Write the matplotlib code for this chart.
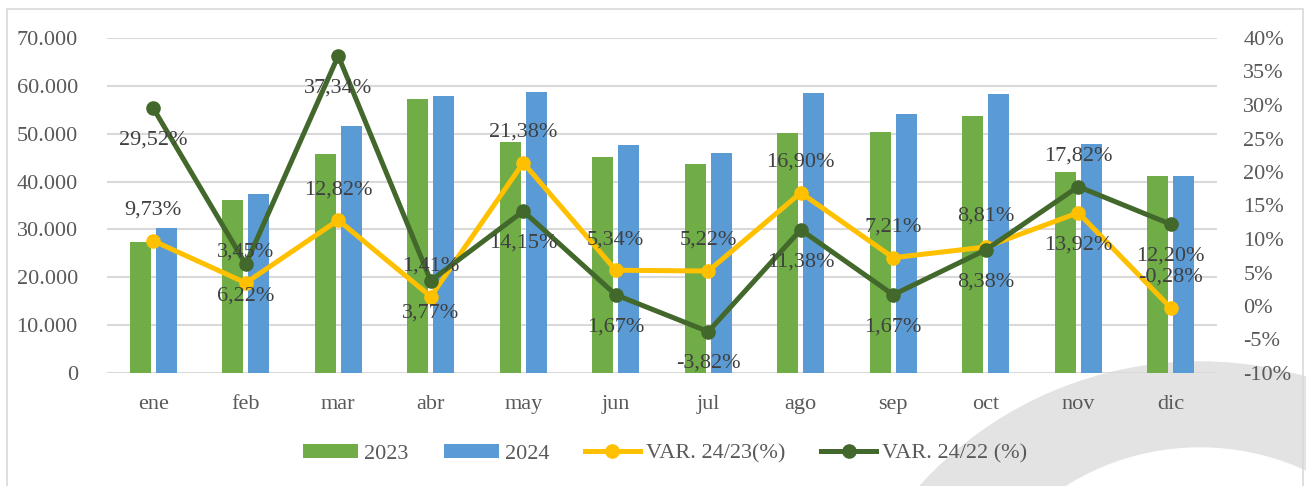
import numpy as np
import matplotlib.pyplot as plt
from matplotlib.patches import Circle, Rectangle
from matplotlib.ticker import FuncFormatter

plt.rcParams['font.family'] = ['Liberation Serif', 'DejaVu Serif']

months = ['ene', 'feb', 'mar', 'abr', 'may', 'jun', 'jul', 'ago', 'sep', 'oct', 'nov', 'dic']
v2023 = [27400, 36100, 45700, 57200, 48300, 45100, 43700, 50100, 50400, 53600, 42000, 41200]
v2024 = [30300, 37400, 51600, 57900, 58800, 47600, 45900, 58500, 54100, 58300, 47800, 41200]
var_24_23 = [9.73, 3.45, 12.82, 1.41, 21.38, 5.34, 5.22, 16.90, 7.21, 8.81, 13.92, -0.28]
var_24_22 = [29.52, 6.22, 37.34, 3.77, 14.15, 1.67, -3.82, 11.38, 1.67, 8.38, 17.82, 12.20]

GREEN, BLUE, YELLOW, DKGREEN = '#70AD47', '#5B9BD5', '#FFC000', '#43682B'
TICK_C, LABEL_C, GRID_C = '#595959', '#404040', '#d9d9d9'
FS = 16

fig = plt.figure(figsize=(13.06, 4.86), dpi=100)

# watermark ring (bottom right) + frame
fig.patches.append(Circle((12.0, -2.54), 3.78, transform=fig.dpi_scale_trans,
                          color='#e3e3e3', zorder=-10))
fig.patches.append(Circle((12.0, -2.14), 2.52, transform=fig.dpi_scale_trans,
                          color='white', zorder=-9))
fig.patches.append(Rectangle((7 / 1306, -0.05), 1296 / 1306, 1.05 - 9 / 486,
                             transform=fig.transFigure, fill=False,
                             edgecolor=GRID_C, lw=1.2, zorder=-8))

ax = fig.add_axes([107 / 1306, 1 - 373 / 486, 1110 / 1306, 335 / 486])
ax.set_facecolor('none')
x = np.arange(len(months))
w = 0.23
ax.bar(x - 0.14, v2023, w, color=GREEN, label='2023', zorder=2)
ax.bar(x + 0.14, v2024, w, color=BLUE, label='2024', zorder=2)
ax.set_ylim(0, 70000)
ax.set_xlim(-0.5, len(months) - 0.5)
ax.set_yticks(np.arange(0, 70001, 10000))
ax.yaxis.set_major_formatter(FuncFormatter(lambda v, p: f'{int(v):,}'.replace(',', '.')))
ax.set_xticks(x)
ax.set_xticklabels(months)
ax.grid(axis='y', color=GRID_C, lw=1.5)
ax.set_axisbelow(True)
for s in ax.spines.values():
    s.set_visible(False)
ax.tick_params(length=0, labelsize=FS, colors=TICK_C)
ax.tick_params(axis='y', pad=21)
ax.tick_params(axis='x', pad=16)

ax2 = ax.twinx()
ax2.set_ylim(-10, 40)
ax2.set_yticks(np.arange(-10, 41, 5))
ax2.yaxis.set_major_formatter(FuncFormatter(lambda v, p: f'{v:.0f}%'))
for s in ax2.spines.values():
    s.set_visible(False)
ax2.tick_params(length=0, labelsize=FS, colors=TICK_C, pad=19)

ax2.plot(x, var_24_23, color=YELLOW, lw=3.6, marker='o', ms=9.5, label='VAR. 24/23(%)', zorder=3)
ax2.plot(x, var_24_22, color=DKGREEN, lw=3.6, marker='o', ms=9.5, label='VAR. 24/22 (%)', zorder=3)

# data labels: VAR 24/23 above, VAR 24/22 below (nov swapped)
flipped = {'nov'}
for i, m in enumerate(months):
    for vals, up in ((var_24_23, True), (var_24_22, False)):
        if m in flipped:
            up = not up
        ax2.annotate(f'{vals[i]:.2f}%'.replace('.', ','), (x[i], vals[i]),
                     xytext=(0, 22 if up else -23), textcoords='offset points',
                     ha='center', va='center', fontsize=FS, color=LABEL_C, zorder=5)

h1, l1 = ax.get_legend_handles_labels()
h2, l2 = ax2.get_legend_handles_labels()
fig.legend(h1 + h2, l1 + l2, loc='center', bbox_to_anchor=(0.509, 0.066), ncol=4,
           frameon=False, fontsize=FS, labelcolor=TICK_C, handlelength=2.5,
           handletextpad=0.25, columnspacing=1.6, handleheight=0.6)

fig.savefig('out.png', dpi=100)
